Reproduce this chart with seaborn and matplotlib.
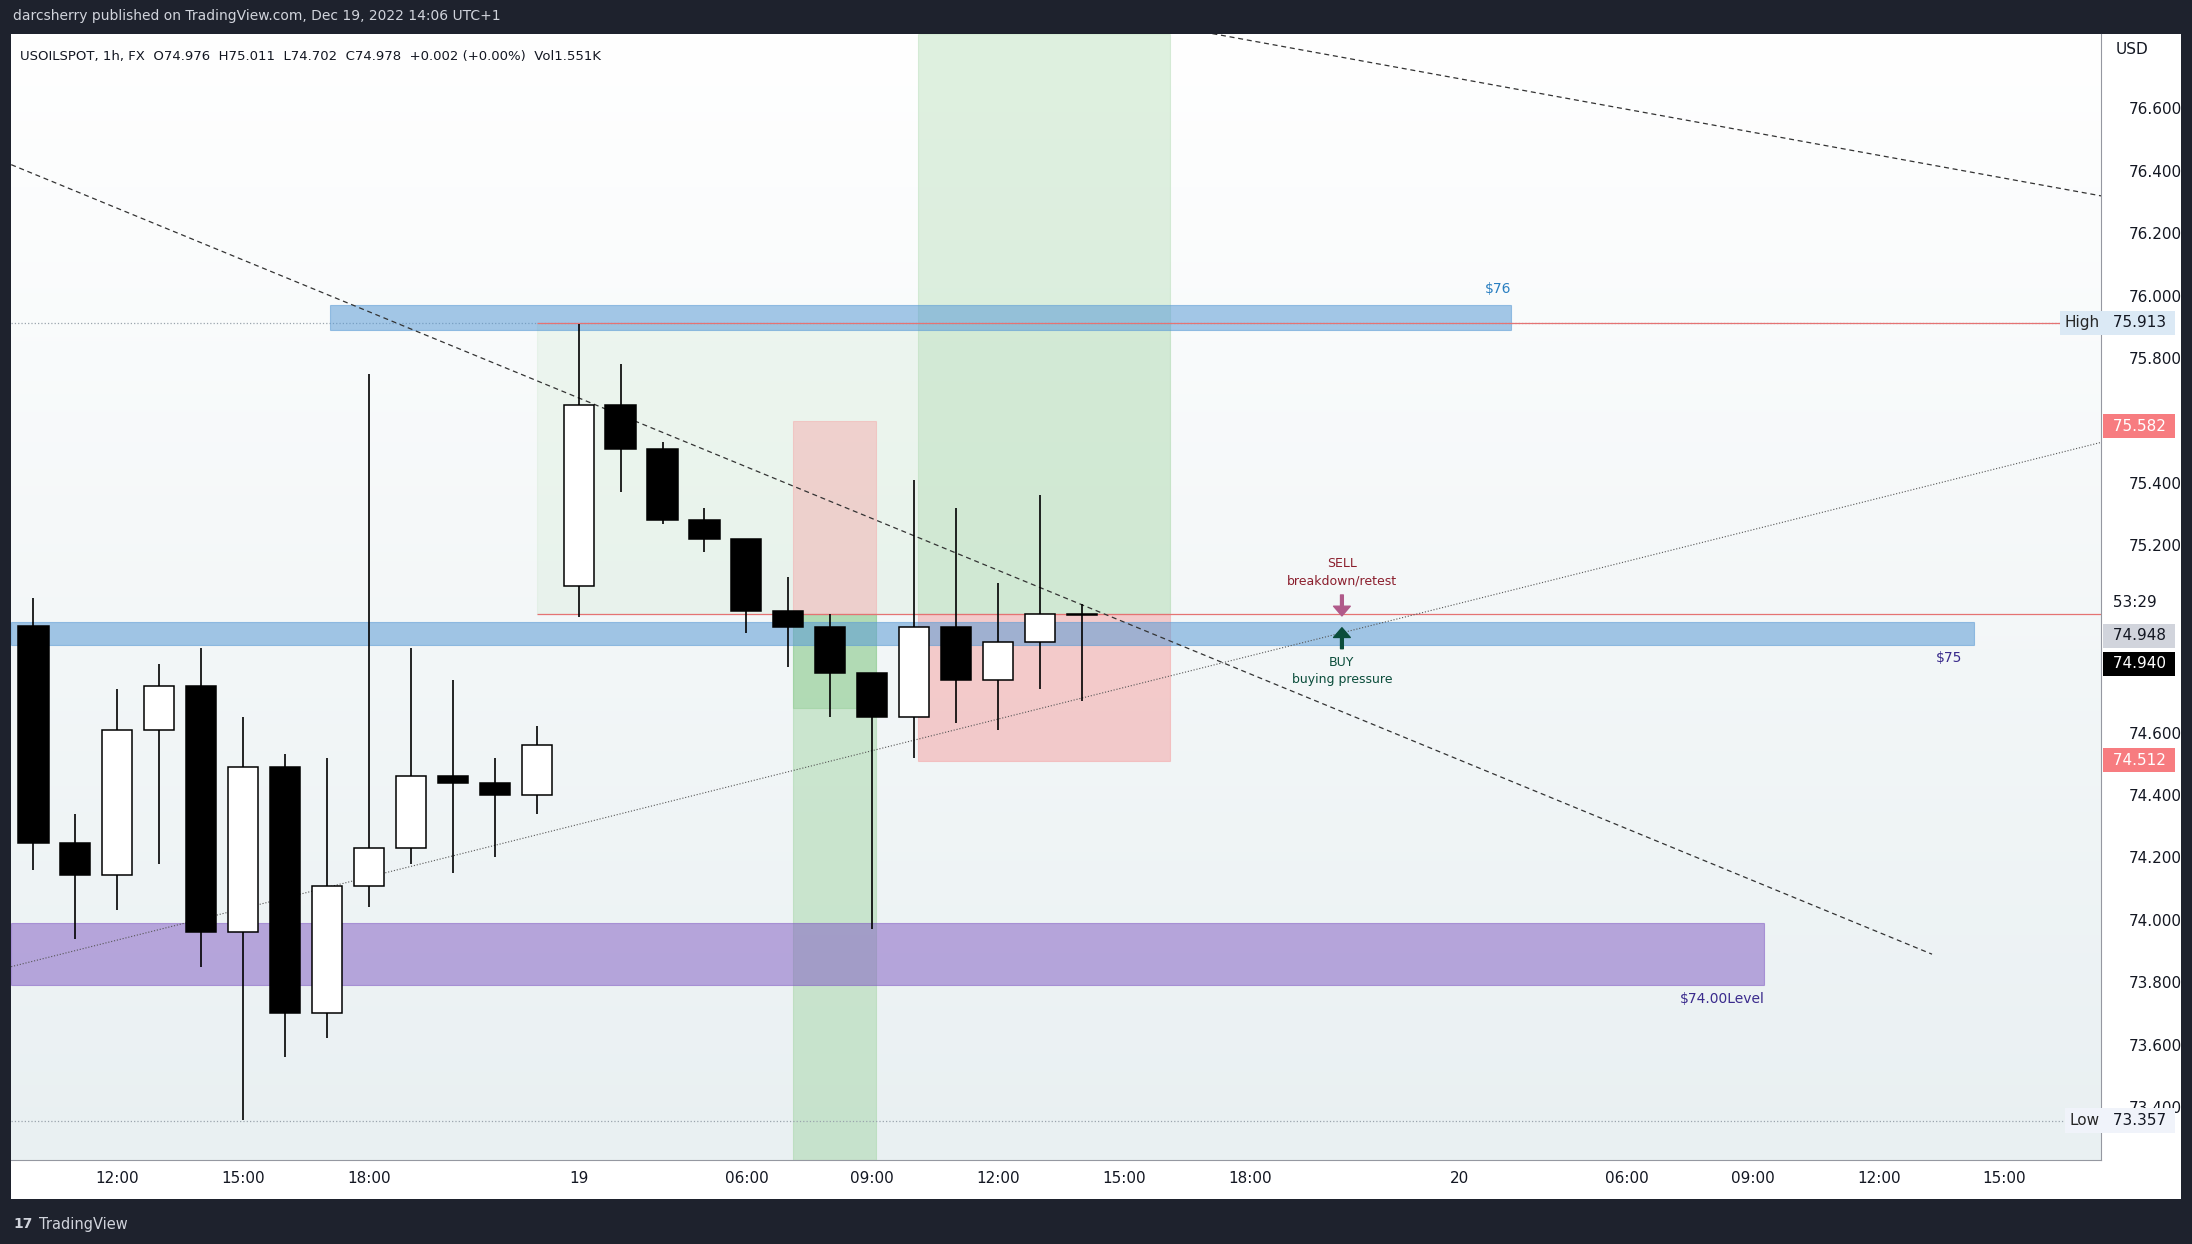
import numpy as np
import pandas as pd
import seaborn as sns
import matplotlib.pyplot as plt
from matplotlib.patches import Rectangle

# bougies 1h USOILSPOT (index = position de la barre)
opens  = [74.942, 74.247, 74.143, 74.61, 74.75, 73.96, 74.49, 73.70, 74.11, 74.23, 74.46, 74.44, 74.40,
          75.07, 75.65, 75.51, 75.28, 75.22, 74.99, 74.94, 74.79, 74.65, 74.94, 74.77, 74.89, 74.976]
closes = [74.247, 74.143, 74.61, 74.75, 73.96, 74.49, 73.70, 74.11, 74.23, 74.46, 74.44, 74.40, 74.56,
          75.65, 75.51, 75.28, 75.22, 74.99, 74.94, 74.79, 74.65, 74.94, 74.77, 74.89, 74.98, 74.978]
highs  = [75.03, 74.34, 74.74, 74.82, 74.87, 74.65, 74.53, 74.52, 75.75, 74.87, 74.77, 74.52, 74.62,
          75.91, 75.78, 75.53, 75.32, 75.22, 75.10, 74.98, 74.79, 75.41, 75.32, 75.08, 75.36, 75.011]
lows   = [74.16, 73.94, 74.03, 74.18, 73.85, 73.36, 73.56, 73.62, 74.04, 74.18, 74.15, 74.20, 74.34,
          74.97, 75.37, 75.27, 75.18, 74.92, 74.81, 74.65, 73.97, 74.52, 74.63, 74.61, 74.74, 74.702]

tick_pos = [2, 5, 8, 13, 17, 20, 23, 26, 29, 34, 38, 41, 44, 47]
tick_lbl = ["12:00", "15:00", "18:00", "19", "06:00", "09:00", "12:00", "15:00", "18:00",
            "20", "06:00", "09:00", "12:00", "15:00"]
y_ticks = [73.4 + 0.2 * k for k in range(17)]
# graduations masquées par les étiquettes de prix
y_hidden = [75.6, 75.0, 74.8]

df = pd.DataFrame({"i": range(len(opens)), "o": opens, "c": closes, "h": highs, "l": lows})

sns.set_style("white")
fig = plt.figure(figsize=(21.92, 12.44), dpi=100)
fig.patch.set_facecolor("#1e222d")
# zone blanche du graphique (axes compris)
fig.add_artist(Rectangle((8 / 1568, 32 / 890), 1552 / 1568, 834 / 890, transform=fig.transFigure,
                         facecolor="white", edgecolor="none", zorder=-1))
ax = fig.add_axes([0.0051, 0.0674, 0.9534, 0.9056])
xmin, xmax, ymin, ymax = -0.53, 49.3, 73.23, 76.84
ax.set_xlim(xmin, xmax)
ax.set_ylim(ymin, ymax)

# fond dégradé
grad = np.linspace(0, 1, 256).reshape(-1, 1)
cmap = sns.blend_palette(["#e9f0f2", "#ffffff"], as_cmap=True)
ax.imshow(grad, extent=[xmin, xmax, ymin, ymax], aspect="auto", cmap=cmap, origin="lower", zorder=0)

def rect(x0, x1, y0, y1, color, alpha, z=1):
    ax.add_patch(Rectangle((x0, y0), x1 - x0, y1 - y0, facecolor=color, alpha=alpha,
                           edgecolor=color, lw=0.8, zorder=z))

# zones
rect(12, 27.1, 74.98, 75.913, "#c8e6c9", 0.25)
rect(18.1, 20.1, 75.60, 74.98, "#f4a6a6", 0.45)
rect(18.1, 20.1, ymin, 74.98, "#a5d6a7", 0.5)
rect(18.1, 20.1, 74.68, 74.98, "#81c784", 0.35)
rect(21.1, 27.1, 74.98, ymax, "#a5d6a7", 0.35)
rect(21.1, 27.1, 74.51, 74.98, "#f4a6a6", 0.55)
rect(7.07, 35.23, 75.89, 75.97, "#5b9bd5", 0.55, 2)
rect(-0.53, 46.27, 74.88, 74.955, "#5b9bd5", 0.55, 2)
rect(-0.53, 41.27, 73.79, 73.99, "#7e57c2", 0.5, 2)

# lignes
ax.axhline(75.913, color="#9aa4ad", ls=":", lw=0.9, zorder=1)
ax.axhline(73.357, color="#9aa4ad", ls=":", lw=0.9, zorder=1)
ax.hlines([75.913, 74.98], 12, xmax, color="#e57373", lw=0.9, zorder=2)
trend = pd.DataFrame({"x": [-0.53, 45.27], "y": [76.42, 73.89]})
sns.lineplot(data=trend, x="x", y="y", ax=ax, color="#333", lw=0.9, ls=(0, (4, 3)))
trend2 = pd.DataFrame({"x": [27.7, 49.3], "y": [76.85, 76.32]})
sns.lineplot(data=trend2, x="x", y="y", ax=ax, color="#333", lw=0.9, ls=(0, (4, 3)))
trend3 = pd.DataFrame({"x": [-0.53, 49.3], "y": [73.85, 75.53]})
sns.lineplot(data=trend3, x="x", y="y", ax=ax, color="#555", lw=0.8, ls=":")

# bougies
ax.vlines(df["i"], df["l"], df["h"], color="black", lw=1.2, zorder=4)
up = df["c"] >= df["o"]
body = (df["c"] - df["o"]).abs().clip(lower=0.004)
ax.bar(df["i"], body, bottom=df[["o", "c"]].min(axis=1), width=0.72,
       color=np.where(up, "white", "black"), edgecolor="black", lw=1.1, zorder=5)

# flèches et textes
ax.annotate("", xy=(31.2, 74.965), xytext=(31.2, 75.05),
            arrowprops=dict(arrowstyle="simple,head_width=1.2,head_length=0.7", color="#b05a8a"), zorder=6)
ax.annotate("", xy=(31.2, 74.945), xytext=(31.2, 74.86),
            arrowprops=dict(arrowstyle="simple,head_width=1.2,head_length=0.7", color="#0b4d3b"), zorder=6)
ax.text(31.2, 75.12, "SELL", color="#8b1e2d", fontsize=9, ha="center", va="bottom")
ax.text(31.2, 75.065, "breakdown/retest", color="#8b1e2d", fontsize=9, ha="center", va="bottom")
ax.text(31.2, 74.845, "BUY", color="#0b4d3b", fontsize=9, ha="center", va="top")
ax.text(31.2, 74.79, "buying pressure", color="#0b4d3b", fontsize=9, ha="center", va="top")
ax.text(35.23, 76.0, "$76", color="#2a7fc1", fontsize=10, ha="right", va="bottom")
ax.text(46.0, 74.86, "$75", color="#3a2b8c", fontsize=10, ha="right", va="top")
ax.text(41.27, 73.77, "$74.00Level", color="#3a2b8c", fontsize=10, ha="right", va="top")
ax.text(0.004, 0.985, "USOILSPOT, 1h, FX  O74.976  H75.011  L74.702  C74.978  +0.002 (+0.00%)  Vol1.551K",
        transform=ax.transAxes, fontsize=9.5, va="top", color="#131722")

# axes
ax.set_xticks(tick_pos)
ax.set_xticklabels(tick_lbl)
ax.set_yticks(y_ticks)
ax.set_yticklabels(["" if any(abs(v - h) < 1e-6 for h in y_hidden) else f"{v:.3f}" for v in y_ticks])
ax.yaxis.tick_right()
ax.tick_params(labelsize=11, colors="#131722", length=0, pad=8)
ax.tick_params(axis="y", pad=20)
for s in ax.spines.values():
    s.set_visible(False)
ax.spines["right"].set_visible(True)
ax.spines["right"].set_color("#9598a1")
ax.spines["bottom"].set_visible(True)
ax.spines["bottom"].set_color("#9598a1")
ax.set_xlabel("")
ax.set_ylabel("")

# étiquettes de prix à droite (au-dessus des graduations)
def yfig(y):
    return 0.0674 + 0.9056 * (y - ymin) / (ymax - ymin)

def tag(y, txt, bg, fg):
    fig.text(0.9615, yfig(y), " " + txt + " ", fontsize=11, va="center", ha="left", color=fg, zorder=10,
             bbox=dict(boxstyle="square,pad=0.3", fc=bg, ec="none"))
tag(75.913, "75.913", "#dbe9f5", "#131722")
tag(75.582, "75.582", "#f77c80", "white")
tag(75.018, "53:29", "white", "#131722")
tag(74.91, "74.948", "#d1d4dc", "#131722")
tag(74.82, "74.940", "black", "white")
tag(74.512, "74.512", "#f77c80", "white")
tag(73.357, "73.357", "#f0f3fa", "#131722")
fig.text(0.958, yfig(75.913), "High", fontsize=11, ha="right", va="center", zorder=10,
         bbox=dict(boxstyle="square,pad=0.3", fc="#dbe9f5", ec="none"))
fig.text(0.958, yfig(73.357), "Low", fontsize=11, ha="right", va="center", zorder=10,
         bbox=dict(boxstyle="square,pad=0.3", fc="#f0f3fa", ec="none"))
fig.text(0.965, 0.96, "USD", fontsize=11, va="center", color="#131722")

fig.text(0.006, 0.987, "darcsherry published on TradingView.com, Dec 19, 2022 14:06 UTC+1",
         color="#d1d4dc", fontsize=10, va="center")
fig.text(0.018, 0.016, "TradingView", color="#d1d4dc", fontsize=10.5, va="center")
fig.text(0.006, 0.016, "17", color="#d1d4dc", fontsize=10, va="center", fontweight="bold")

fig.savefig("out.png", dpi=100, facecolor=fig.get_facecolor())
